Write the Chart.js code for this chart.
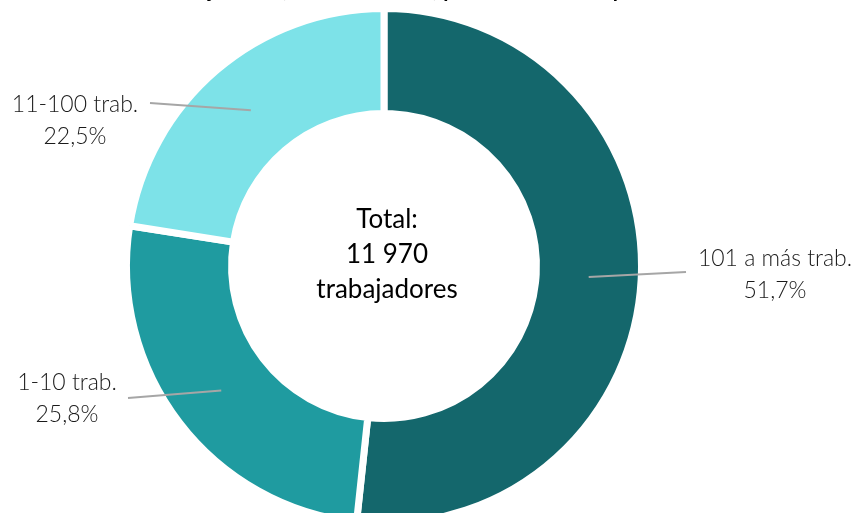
<!DOCTYPE html>
<html>
<head>
<meta charset="utf-8">
<script src="https://cdn.jsdelivr.net/npm/chart.js@4.4.1/dist/chart.umd.min.js"></script>
<style>
  html, body { margin: 0; padding: 0; background: #fff; overflow: hidden; }
  #wrap { position: absolute; left: 0; top: 0; width: 862px; height: 540px; }
</style>
</head>
<body>
<div id="wrap"><canvas id="chart" width="862" height="540"></canvas></div>
<script>
// data
const categories = ["101 a más trab.", "1-10 trab.", "11-100 trab."];
const shares = [51.7, 25.8, 22.5];
const sliceColors = ["#14676C", "#1F9BA0", "#7DE2E8"];
const centerLines = ["Total:", "11 970", "trabajadores"];
const titleText = "Trabajadores (diciembre 2023) por tamaño de empresa";

// where each outside label sits, relative to the doughnut centre
const labelLayout = [
  { end: [302, 6], text: [391, -7] },
  { end: [-256, 132], text: [-317, 117] },
  { end: [-234, -163], text: [-309, -161] },
];

const fmt = (v) => v.toFixed(1).replace(".", ",") + "%";

const labelsPlugin = {
  id: "outsideLabels",
  afterDatasetsDraw(chart) {
    const ctx = chart.ctx;
    const meta = chart.getDatasetMeta(0);
    ctx.save();
    meta.data.forEach((arc, i) => {
      const { x, y, startAngle, endAngle, innerRadius, outerRadius } = arc.getProps(
        ["x", "y", "startAngle", "endAngle", "innerRadius", "outerRadius"], true);
      const mid = (startAngle + endAngle) / 2;
      const r = (innerRadius + outerRadius) / 2;
      const sx = x + Math.cos(mid) * r;
      const sy = y + Math.sin(mid) * r;
      const lay = labelLayout[i];
      ctx.strokeStyle = "#A6A6A6";
      ctx.lineWidth = 2;
      ctx.beginPath();
      ctx.moveTo(sx, sy);
      ctx.lineTo(x + lay.end[0], y + lay.end[1]);
      ctx.stroke();

      ctx.fillStyle = "#1a1a1a";
      ctx.font = "300 23px Lato, 'Open Sans', sans-serif";
      ctx.textAlign = "center";
      ctx.textBaseline = "middle";
      const tx = x + lay.text[0];
      const ty = y + lay.text[1];
      ctx.fillText(chart.data.labels[i], tx, ty);
      ctx.fillText(fmt(chart.data.datasets[0].data[i]), tx, ty + 32);
    });

    // centre text
    const c = meta.data[0];
    ctx.fillStyle = "#000";
    ctx.font = "400 26px Lato, 'Open Sans', sans-serif";
    ctx.textAlign = "center";
    ctx.textBaseline = "middle";
    centerLines.forEach((t, k) => {
      ctx.fillText(t, c.x + 3, c.y - 46 + k * 35);
    });

    // title, mostly above the visible area
    ctx.font = "700 21px Lato, 'Open Sans', sans-serif";
    ctx.textBaseline = "alphabetic";
    ctx.fillText(titleText, c.x + 26, -3);
    ctx.restore();
  },
};

new Chart(document.getElementById("chart"), {
  type: "doughnut",
  data: {
    labels: categories,
    datasets: [{
      data: shares,
      backgroundColor: sliceColors,
      borderColor: "#ffffff",
      borderWidth: 7,
      hoverOffset: 0,
    }],
  },
  options: {
    responsive: false,
    animation: false,
    cutout: "59.2%",
    layout: { padding: { left: 123, top: 5, right: 217, bottom: 13 } },
    plugins: {
      legend: { display: false },
      tooltip: { enabled: false },
      title: { display: false },
    },
  },
  plugins: [labelsPlugin],
});
</script>
</body>
</html>
